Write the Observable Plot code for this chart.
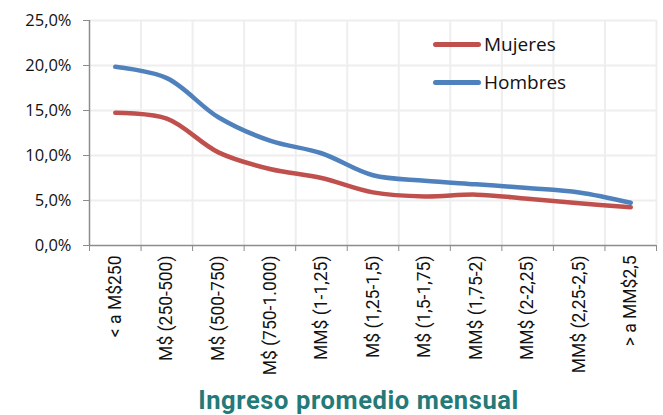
<!DOCTYPE html>
<html>
<head>
<meta charset="utf-8">
<script src="https://cdn.jsdelivr.net/npm/d3@7"></script>
<script src="https://cdn.jsdelivr.net/npm/@observablehq/plot@0.6"></script>
<style>
  html, body { margin: 0; padding: 0; background: #fff; }
  #wrap { position: relative; width: 663px; height: 415px; overflow: hidden; }
  #title { position: absolute; left: 0; top: 385px; width: 663px; padding-left: 54px; box-sizing: border-box; text-align: center;
           font-family: Roboto, sans-serif; font-weight: bold; font-size: 25.5px; letter-spacing: 0.6px; color: #237a78; }
  #legend { position: absolute; left: 433px; top: 25px; font-family: "Open Sans", sans-serif; font-size: 19px; color: #111; }
  .item { display: flex; align-items: center; height: 38px; }
  .sw { width: 48px; height: 5px; border-radius: 3px; margin-right: 3px; }
</style>
</head>
<body>
<div id="wrap">
  <div id="chart"></div>
  <div id="legend"></div>
  <div id="title">Ingreso promedio mensual</div>
</div>
<script>
const categories = ["< a M$250", "M$ (250-500)", "M$ (500-750)", "M$ (750-1.000)", "MM$ (1-1,25)",
  "M$ (1,25-1,5)", "M$ (1,5-1,75)", "MM$ (1,75-2)", "MM$ (2-2,25)", "MM$ (2,25-2,5)", "> a MM$2,5"];
const mujeres = [14.75, 14.1, 10.35, 8.5, 7.5, 5.9, 5.45, 5.65, 5.2, 4.7, 4.25];
const hombres = [19.85, 18.6, 14.25, 11.65, 10.25, 7.8, 7.2, 6.8, 6.4, 5.9, 4.75];
const seriesNames = ["Mujeres", "Hombres"];
const seriesColors = ["#c0504d", "#4f81bd"];
const yTicks = [0, 5, 10, 15, 20, 25];

const idx = categories.map((_, i) => i);
const bounds = d3.range(-0.5, categories.length, 1);
const data = [];
seriesNames.forEach((s, k) => {
  const vals = k === 0 ? mujeres : hombres;
  vals.forEach((v, i) => data.push({serie: s, i, v}));
});
const fmt = v => v.toFixed(1).replace(".", ",") + "%";

const chart = Plot.plot({
  width: 663,
  height: 385,
  marginLeft: 89,
  marginRight: 7,
  marginTop: 20,
  marginBottom: 140,
  style: {fontFamily: "'Open Sans', sans-serif", color: "#111", background: "#fff"},
  x: {type: "linear", domain: [-0.5, categories.length - 0.5]},
  y: {domain: [0, 25]},
  color: {domain: seriesNames, range: seriesColors},
  marks: [
    Plot.ruleY(yTicks.slice(1), {stroke: "#eeeeee", strokeWidth: 2}),
    Plot.ruleX(bounds.slice(1), {stroke: "#eeeeee", strokeWidth: 2}),
    Plot.axisY({ticks: yTicks, tickFormat: fmt, tickSize: 6, tickPadding: 12, stroke: "#8c8c8c", fontSize: 16.5, label: null}),
    Plot.axisX({ticks: bounds, tickFormat: () => "", tickSize: 6, stroke: "#8c8c8c", label: null}),
    Plot.axisX({ticks: idx, tickFormat: i => categories[i], tickSize: 0, tickPadding: 10, tickRotate: -90,
      fontSize: 17.5, fontFamily: "Roboto, sans-serif", letterSpacing: "1px", label: null}),
    Plot.ruleX([-0.5], {stroke: "#8c8c8c", strokeWidth: 1.5}),
    Plot.ruleY([0], {stroke: "#8c8c8c", strokeWidth: 1.5}),
    Plot.line(data, {x: "i", y: "v", z: "serie", stroke: "serie", strokeWidth: 4.5, curve: "catmull-rom"})
  ]
});
document.getElementById("chart").appendChild(chart);

const legend = document.getElementById("legend");
seriesNames.forEach((s, k) => {
  const it = document.createElement("div");
  it.className = "item";
  it.innerHTML = `<div class="sw" style="background:${seriesColors[k]}"></div><span>${s}</span>`;
  legend.appendChild(it);
});
</script>
</body>
</html>
